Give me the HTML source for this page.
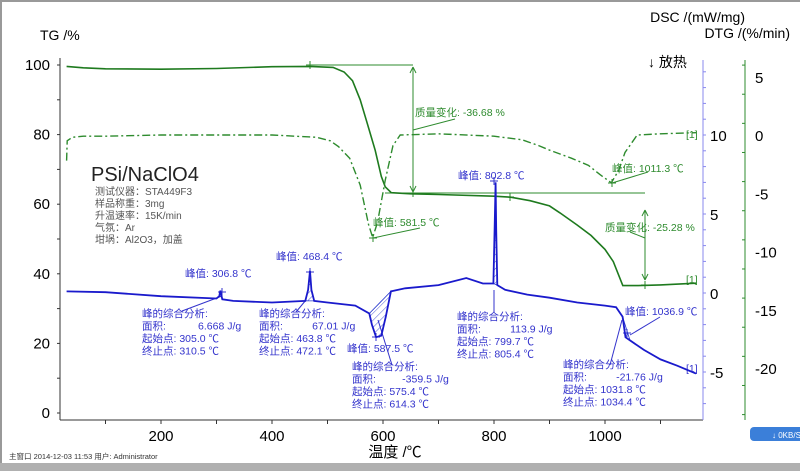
<!DOCTYPE html>
<html><head><meta charset="utf-8">
<style>
html,body{margin:0;padding:0;background:#fff;}
svg{display:block;font-family:"Liberation Sans","Noto Sans CJK SC",sans-serif;}
.ann{font-size:10.5px;white-space:pre;}
.blue{fill:#3333cc;}
.green{fill:#2e8b2e;}
</style></head>
<body>
<svg id="chart" width="800" height="471" viewBox="0 0 800 471" xmlns="http://www.w3.org/2000/svg">
<defs>
<pattern id="hatch" width="5" height="5" patternUnits="userSpaceOnUse" patternTransform="rotate(45)">
<line x1="0" y1="0" x2="0" y2="5" stroke="#2233cc" stroke-width="0.8"/>
</pattern>
</defs>
<rect x="0" y="0" width="800" height="471" fill="#fff"/>
<rect x="0" y="0" width="800" height="2" fill="#999"/>
<rect x="0" y="0" width="2" height="471" fill="#999"/>
<rect x="0" y="463" width="800" height="8" fill="#b0b0b0"/>
<g id="axes"></g>
<g id="ann"></g>
<g id="series"></g>
<text x="40" y="40" font-size="14">TG /%</text>
<text x="745" y="22" font-size="14" text-anchor="end">DSC /(mW/mg)</text>
<text x="790" y="38" font-size="14" text-anchor="end">DTG /(%/min)</text>
<text x="648" y="67" font-size="14">↓ 放热</text>
<text x="395" y="457" font-size="15" text-anchor="middle">温度 /℃</text>
<text x="9" y="459" font-size="7.5" fill="#333">主窗口  2014-12-03 11:53  用户: Administrator</text>
<g><rect x="750" y="427" width="60" height="14" rx="4" fill="#3b7fd9"/><text x="772" y="438" font-size="8" fill="#fff">↓  0KB/S</text></g>
<text x="91" y="181" font-size="20" fill="#222">PSi/NaClO4</text>
<g font-size="10" fill="#555">
<text x="95" y="195">测试仪器：STA449F3</text>
<text x="95" y="207">样品称重：3mg</text>
<text x="95" y="219">升温速率：15K/min</text>
<text x="95" y="231">气氛：Ar</text>
<text x="95" y="243">坩埚：Al2O3，加盖</text>
</g>
</svg>
<script>
// ---- data ----
const xTicks = [200, 400, 600, 800, 1000];
const tgTicks = [0, 20, 40, 60, 80, 100];
const dscTicks = [-5, 0, 5, 10];
const dtgTicks = [5, 0, -5, -10, -15, -20];
const tgT = [30, 60, 100, 200, 300, 400, 468, 510, 530, 545, 559, 572, 586, 597, 604, 615, 650, 700, 800, 830, 865, 900, 919, 950, 975, 1000, 1015, 1032, 1060, 1100, 1164];
const tgV = [99.6, 99.2, 98.9, 98.8, 99.0, 99.5, 99.6, 99.3, 98.0, 95.5, 90, 83, 75.5, 68, 65, 63.3, 63.0, 62.8, 62.3, 62.0, 61.0, 59.5, 57.5, 54, 51, 47, 43.5, 36.6, 36.6, 36.8, 37.3];
const dtgT = [30, 31, 40, 60, 100, 200, 300, 400, 480, 505, 520, 540, 559, 574, 581.5, 590, 604, 618, 631, 700, 800, 850, 880, 900, 940, 970, 991, 1011.3, 1025, 1036, 1058, 1100, 1164];
const dtgV = [-2.2, -0.5, -0.2, -0.1, -0.1, 0, 0, 0, -0.2, -0.5, -1.0, -2.0, -4.3, -7.7, -8.8, -7.5, -3.9, -0.9, 0, 0.1, -0.1, -0.4, -0.9, -1.3, -2.0, -2.6, -3.4, -4.1, -3.0, -1.5, 0, 0.1, 0.2];
const dscT = [30, 100, 200, 300, 305, 306.8, 310.5, 330, 400, 460, 465, 468.4, 471, 476, 500, 550, 575.4, 580, 587.5, 597, 605, 614.3, 640, 700, 750, 780, 799, 801, 802.8, 804, 806, 820, 860, 900, 950, 1000, 1020, 1031.8, 1036.9, 1045, 1070, 1100, 1130, 1164];
const dscV = [0.1, 0.05, -0.2, -0.35, -0.2, 0.15, -0.4, -0.5, -0.6, -0.5, 0.2, 1.4, 0.2, -0.5, -0.6, -0.8, -1.3, -2.0, -2.8, -2.7, -1.5, 0.1, 0.3, 0.5, 0.95, 0.6, 0.6, 4.0, 7.0, 4.0, 0.5, 0.2, -0.1, -0.3, -0.6, -0.8, -0.9, -1.5, -2.8, -3.0, -3.6, -4.2, -4.6, -5.1];

// ---- scales ----
const X = t => 161 + (t - 200) * 0.555;
const YTG = v => 413 - v * 3.48;
const YDSC = v => 293 - v * 15.8;
const YDTG = v => 135 - v * 11.65;
const NS = "http://www.w3.org/2000/svg";
function mk(tag, attrs, parent) {
  const e = document.createElementNS(NS, tag);
  for (const k in attrs) e.setAttribute(k, attrs[k]);
  parent.appendChild(e);
  return e;
}
const axes = document.getElementById('axes');
const ann = document.getElementById('ann');
const series = document.getElementById('series');

let xl = mk('line', {x1: 60, y1: 420, x2: 703, y2: 420, stroke: '#333'}, axes);


for (let t = 100; t <= 1100; t += 100) {
  mk('line', {x1: X(t), y1: 420, x2: X(t), y2: 424, stroke: '#333'}, axes);
}
xTicks.forEach(t => {
  const tx = mk('text', {x: X(t), y: 441, 'font-size': 15, 'text-anchor': 'middle'}, axes);
  tx.textContent = t;
  
  
});
let tl = mk('line', {x1: 60, y1: 58, x2: 60, y2: 420, stroke: '#333'}, axes);


for (let v = 0; v <= 100; v += 10) mk('line', {x1: 57, y1: YTG(v), x2: 60, y2: YTG(v), stroke: '#333'}, axes);
tgTicks.forEach(v => {
  const tx = mk('text', {x: 50, y: YTG(v) + 5, 'font-size': 15, 'text-anchor': 'end'}, axes);
  tx.textContent = v;
  
  
});
let bl = mk('line', {x1: 703, y1: 60, x2: 703, y2: 420, stroke: '#8888ee'}, axes);


for (let v = -7; v <= 14; v++) mk('line', {x1: 703, y1: YDSC(v), x2: 706, y2: YDSC(v), stroke: '#8888ee'}, axes);
dscTicks.forEach(v => {
  const tx = mk('text', {x: 710, y: YDSC(v) + 6, 'font-size': 15}, axes);
  tx.textContent = v;
  
  
});
let gl = mk('line', {x1: 745, y1: 60, x2: 745, y2: 420, stroke: '#2e8b2e'}, axes);


for (let v = -24; v <= 6; v += 2.5) mk('line', {x1: 742, y1: YDTG(v), x2: 745, y2: YDTG(v), stroke: '#2e8b2e'}, axes);
dtgTicks.forEach(v => {
  const tx = mk('text', {x: 755, y: YDTG(v) + 6, 'font-size': 15}, axes);
  tx.textContent = v;
  
  
});

function pts(T, V, Y) { return T.map((t, i) => X(t).toFixed(1) + ',' + Y(V[i]).toFixed(1)).join(' '); }

function hatch(t0, t1) {
  const T = [], V = [];
  dscT.forEach((t, i) => { if (t >= t0 && t <= t1) { T.push(t); V.push(dscV[i]); } });
  return pts(T, V, YDSC);
}
[[575.4, 614.3], [460, 476], [799, 806], [1031.8, 1045]].forEach(r => {
  const p = mk('polygon', {points: hatch(r[0], r[1]), fill: 'url(#hatch)', stroke: '#2233cc', 'stroke-width': 0.8}, series);
  
  
});

const tg = mk('polyline', {points: pts(tgT, tgV, YTG), fill: 'none', stroke: '#1e7a1e', 'stroke-width': 1.6}, series);


const dtg = mk('polyline', {points: pts(dtgT, dtgV, YDTG), fill: 'none', stroke: '#2e8b2e', 'stroke-width': 1.4, 'stroke-dasharray': '8,3,2,3'}, series);


const dsc = mk('polyline', {points: pts(dscT, dscV, YDSC), fill: 'none', stroke: '#1a1acc', 'stroke-width': 1.8}, series);



const G = '#2e8b2e', B = '#3333cc';
function ln(x1, y1, x2, y2, c, parent) { return mk('line', {x1, y1, x2, y2, stroke: c, 'stroke-width': 1}, parent || ann); }
ln(310, 65, 413, 65, G);
ln(413, 67, 413, 192, G); ln(410, 73, 413, 67, G); ln(416, 73, 413, 67, G); ln(410, 186, 413, 192, G); ln(416, 186, 413, 192, G);
ln(413, 130, 455, 119, G);
ln(385, 193, 645, 193, G);
ln(645, 210, 645, 280, G); ln(642, 216, 645, 210, G); ln(648, 216, 645, 210, G); ln(642, 274, 645, 280, G); ln(648, 274, 645, 280, G);
ln(373, 238, 420, 228, G);
ln(612, 183, 648, 172, G);
ln(630, 232, 645, 238, G);
function cross(x, y, c) { ln(x - 4, y, x + 4, y, c); ln(x, y - 4, x, y + 4, c); }
cross(310, 65, G); cross(413, 193, G); cross(510, 197, G); cross(373, 238, G); cross(612, 183, G); cross(645, 285, G);
cross(222, 292, B); cross(310, 272, B); cross(376, 337, B); cross(494, 181, B); cross(627, 333, B);
ln(222, 296, 182, 311, B); ln(306, 300, 296, 312, B); ln(378, 320, 392, 365, B);
ln(494, 290, 494, 312, B); ln(622, 320, 610, 365, B); ln(630, 335, 660, 317, B);

function txt(x, y, s, cls, name) {
  const t = mk('text', {x, y, class: 'ann ' + cls}, ann);
  t.textContent = s;
  
  
}
txt(415, 116, '质量变化: -36.68 %', 'green', 'mass-change-label-1');
txt(605, 231, '质量变化: -25.28 %', 'green', 'mass-change-label-2');
txt(373, 226, '峰值: 581.5 ℃', 'green', 'dtg-peak-label-1');
txt(612, 172, '峰值: 1011.3 ℃', 'green', 'dtg-peak-label-2');
txt(686, 138, '[1]', 'green', 'dtg-curve-tag');
txt(686, 283, '[1]', 'green', 'tg-curve-tag');
txt(686, 372, '[1]', 'blue', 'dsc-curve-tag');
txt(185, 277, '峰值: 306.8 ℃', 'blue', 'dsc-peak-label-306');
txt(276, 260, '峰值: 468.4 ℃', 'blue', 'dsc-peak-label-468');
txt(347, 352, '峰值: 587.5 ℃', 'blue', 'dsc-peak-label-587');
txt(458, 179, '峰值: 802.8 ℃', 'blue', 'dsc-peak-label-802');
txt(625, 315, '峰值: 1036.9 ℃', 'blue', 'dsc-peak-label-1036');
function block(x, y, a, s, e, name) {
  txt(x, y, '峰的综合分析:', 'blue', name + '-title');
  txt(x, y + 12.5, '面积:       ' + a, 'blue', name + '-area');
  txt(x, y + 25, '起始点: ' + s, 'blue', name + '-onset');
  txt(x, y + 37.5, '终止点: ' + e, 'blue', name + '-end');
}
block(142, 317, '    6.668 J/g', '305.0 ℃', '310.5 ℃', 'peak-analysis-306');
block(259, 317, '   67.01 J/g', '463.8 ℃', '472.1 ℃', 'peak-analysis-468');
block(352, 370, '  -359.5 J/g', '575.4 ℃', '614.3 ℃', 'peak-analysis-587');
block(457, 320, '   113.9 J/g', '799.7 ℃', '805.4 ℃', 'peak-analysis-802');
block(563, 368, '   -21.76 J/g', '1031.8 ℃', '1034.4 ℃', 'peak-analysis-1036');
</script>
</body></html>
